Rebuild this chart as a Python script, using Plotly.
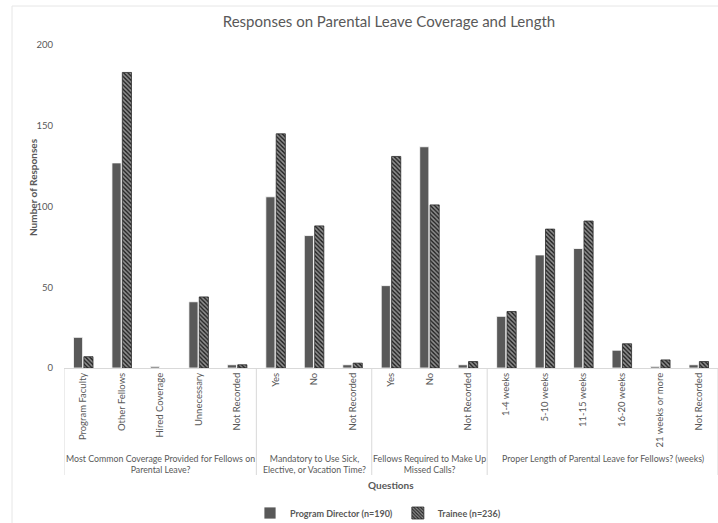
import plotly.graph_objects as go

# Survey questions (outer groups) and their answer options (inner categories)
groups = [
    "Most Common Coverage Provided for Fellows on<br>Parental Leave?",
    "Mandatory to Use Sick,<br>Elective, or Vacation Time?",
    "Fellows Required to Make Up<br>Missed Calls?",
    "Proper Length of Parental Leave for Fellows? (weeks)",
]
answers = [
    ["Program Faculty", "Other Fellows", "Hired Coverage", "Unnecessary", "Not Recorded"],
    ["Yes", "No", "Not Recorded"],
    ["Yes", "No", "Not Recorded"],
    ["1-4 weeks", "5-10 weeks", "11-15 weeks", "16-20 weeks", "21 weeks or more", "Not Recorded"],
]

# Response counts per answer, in the same order as above
program_director = [19, 127, 1, 41, 2,
                    106, 82, 2,
                    51, 137, 2,
                    32, 70, 74, 11, 1, 2]
trainee = [7, 183, 0, 44, 2,
           145, 88, 3,
           131, 101, 4,
           35, 86, 91, 15, 5, 4]

series_names = ["Program Director (n=190)", "Trainee (n=236)"]
y_ticks = [0, 50, 100, 150, 200]

W, H = 718, 523
M_L, M_R, M_T, M_B = 64, 0, 45, 155
FONT = "Lato, 'Open Sans', sans-serif"
GREY_TXT = "#595959"
LINE = "#d9d9d9"

tick_labels = [a for grp in answers for a in grp]
positions = list(range(len(tick_labels)))


def py_to_paper(py):
    """Convert a pixel row in the page to a paper y coordinate."""
    plot_h = H - M_T - M_B
    return (H - M_B - py) / plot_h


def px_to_paper(px):
    """Convert a pixel column in the page to a paper x coordinate."""
    return (px - M_L) / (W - M_L - M_R)


def outline_widths(values, width):
    # no outline on empty bars, so a zero count draws nothing
    return [width if v > 0 else 0 for v in values]


fig = go.Figure()
fig.add_trace(go.Bar(
    x=positions, y=program_director, name=series_names[0],
    marker=dict(color="#595959",
                line=dict(color="#ffffff", width=outline_widths(program_director, 0.8))),
))
fig.add_trace(go.Bar(
    x=positions, y=trainee, name=series_names[1],
    marker=dict(
        color="#262626",
        line=dict(color="#2b2b2b", width=outline_widths(trainee, 0.8)),
        pattern=dict(shape="\\", fgcolor="#ffffff", bgcolor="#262626",
                     size=3, solidity=0.5),
    ),
))

# Group dividers under the category axis and group captions
shapes = []
annotations = []
start = 0
for grp, opts in zip(groups, answers):
    end = start + len(opts)
    shapes.append(dict(type="line", xref="x", yref="paper",
                       x0=start - 0.5, x1=start - 0.5,
                       y0=0, y1=py_to_paper(475),
                       line=dict(color=LINE, width=1)))
    annotations.append(dict(
        text=grp, xref="x", yref="paper",
        x=(start + end - 1) / 2, y=py_to_paper(451),
        xanchor="center", yanchor="top", showarrow=False,
        font=dict(family=FONT, size=8.8, color=GREY_TXT), align="center",
    ))
    start = end
shapes.append(dict(type="line", xref="x", yref="paper",
                   x0=start - 0.5, x1=start - 0.5,
                   y0=0, y1=py_to_paper(475),
                   line=dict(color=LINE, width=1)))

# Outer chart frame
shapes.append(dict(type="rect", xref="paper", yref="paper",
                   x0=px_to_paper(12), x1=1.2,
                   y0=py_to_paper(540), y1=py_to_paper(6),
                   line=dict(color="#e6e6e6", width=1), layer="below"))

# Axis titles
annotations.append(dict(
    text="<b>Questions</b>", xref="paper", yref="paper",
    x=0.5, y=py_to_paper(485), xanchor="center", yanchor="middle",
    showarrow=False, font=dict(family=FONT, size=10, color=GREY_TXT),
))
annotations.append(dict(
    text="<b>Number of Responses</b>", xref="paper", yref="paper",
    x=px_to_paper(33), y=py_to_paper(187), xanchor="center", yanchor="middle",
    textangle=-90, showarrow=False,
    font=dict(family=FONT, size=10, color=GREY_TXT),
))

fig.update_layout(
    width=W, height=H,
    margin=dict(l=M_L, r=M_R, t=M_T, b=M_B),
    paper_bgcolor="#ffffff", plot_bgcolor="#ffffff",
    title=dict(text="Responses on Parental Leave Coverage and Length",
               x=389 / W, xanchor="center", y=1 - 22 / H, yanchor="middle",
               font=dict(family=FONT, size=15, color=GREY_TXT)),
    barmode="group", bargap=0.46, bargroupgap=0.12,
    showlegend=True,
    legend=dict(orientation="h", x=378 / W, xanchor="center",
                xref="container", yref="container",
                y=1 - 513 / H, yanchor="middle",
                font=dict(family=FONT, size=9, color=GREY_TXT, weight="bold"),
                itemwidth=30, traceorder="normal"),
    shapes=shapes, annotations=annotations,
    font=dict(family=FONT, color=GREY_TXT),
)
fig.update_xaxes(
    range=[-0.5, len(tick_labels) - 0.5],
    tickmode="array", tickvals=positions, ticktext=tick_labels,
    tickangle=-90, tickfont=dict(family=FONT, size=9.5, color=GREY_TXT),
    showline=True, linecolor=LINE, linewidth=1,
    showgrid=False, zeroline=False, ticks="",
)
fig.update_yaxes(
    range=[0, 200], tickmode="array", tickvals=y_ticks,
    tickfont=dict(family=FONT, size=9.5, color=GREY_TXT),
    showgrid=False, zeroline=False, showline=False, ticks="",
    ticklabelstandoff=10,
)

fig.write_html("out.html")
